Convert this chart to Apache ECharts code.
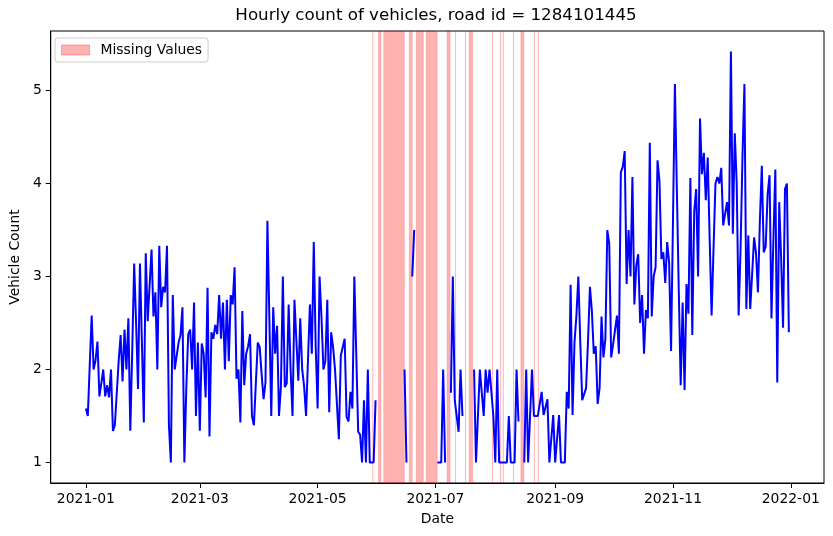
<!DOCTYPE html>
<html>
<head>
<meta charset="utf-8">
<script src="https://cdn.jsdelivr.net/npm/echarts@6/dist/echarts.min.js"></script>
<style>
  html, body { margin: 0; padding: 0; background: #fff; }
  #main { width: 833px; height: 536px; }
</style>
</head>
<body>
<div id="main"></div>
<script>
// daily values, starting 2021-01-01 (null = gap in the line)
const startDate = '2021-01-01'
const counts = [
  1.58, 1.50, 2.05, 2.58, 2.0, 2.1, 2.30, 1.71, 1.85, 2.0,
  1.71, 1.83, 1.70, 2.0, 1.34, 1.40, 1.75, 2.1, 2.37, 1.87,
  2.43, 2.0, 2.55, 1.34, 2.2, 3.14, 2.5, 1.79, 3.14, 2.3,
  1.43, 3.25, 2.52, 2.52, 3.29, 2.57, 2.83, 2.0, 3.33, 2.67,
  2.89, 2.83, 3.33, 1.4, 1.0, 2.80, 2.0, 2.0, 2.29, 2.37,
  2.67, 1.0, 1.8, 2.38, 2.43, 2.0, 2.72, 1.50, 2.29, 1.34,
  2.28, 2.17, 1.70, 2.88, 1.28, 2.40, 2.33, 2.48, 2.38, 2.80,
  2.33, 2.72, 2.0, 2.75, 2.09, 2.80, 2.70, 3.10, 1.90, 2.0,
  1.43, 2.63, 1.83, 2.17, 2.25, 2.38, 1.50, 1.40, 1.85, 2.29,
  2.24, 1.95, 1.68, 1.86, 3.60, 2.55, 1.50, 2.67, 2.17, 2.47,
  1.50, 1.82, 3.0, 1.81, 1.85, 2.70, 2.0, 1.5, 2.75, 2.31,
  1.88, 2.55, 2.0, 1.82, 1.50, 2.1, 2.70, 2.17, 3.37, 2.24,
  1.58, 3.0, 2.56, 2.0, 2.09, 2.75, 1.54, 2.40, 2.24, 2.0,
  2.0, 1.25, 2.15, 2.24, 2.33, 1.49, 1.44, 1.76, 1.58, 3.0,
  3.0, 1.33, 1.3, 1.0, 1.67, 1.0, 2.0, 1.0, 1.0, 1.0,
  1.67, null, null, null, null, null, null, null, null, null,
  null, null, null, null, null, 2.0, 1.0, null, null, 3.0,
  3.5, null, null, null, null, null, null, null, null, null,
  null, null, 1.0, 1.0, 1.0, 2.0, 1.0, null, null, 1.75,
  3.0, 1.67, 1.67, 1.33, 2.0, 1.5, null, null, null, null,
  null, 2.0, 1.0, 1.5, 2.0, 1.75, 1.5, 2.0, 1.75, 2.0,
  1.75, 1.5, 1.0, 2.0, 1.0, 1.0, 1.0, 1.0, 1.0, 1.5,
  1.0, 1.0, 1.0, 2.0, 1.44, null, null, 1.0, 2.0, 1.0,
  1.0, 2.0, 1.5, 1.5, 1.5, 1.5, 1.76, 1.51, 1.51, 1.68,
  1.0, 1.0, 1.51, 1.0, 1.0, 1.51, 1.0, 1.0, 1.0, 1.76,
  1.58, 2.91, 1.51, 2.29, 2.58, 3.0, 2.3, 1.67, 1.67, 1.80,
  2.3, 2.89, 2.63, 2.17, 2.25, 1.63, 1.80, 2.57, 2.13, 2.33,
  3.50, 3.35, 2.13, 2.27, 2.27, 2.58, 2.17, 4.12, 4.18, 4.35,
  2.92, 3.50, 3.0, 4.07, 2.70, 3.12, 3.24, 2.50, 2.80, 2.17,
  2.64, 2.55, 4.44, 2.57, 3.0, 3.1, 4.25, 4.03, 3.19, 3.26,
  2.93, 3.37, 3.15, 2.20, 3.6, 5.07, 3.95, 2.85, 1.83, 2.72,
  1.78, 2.92, 2.60, 4.06, 2.37, 3.70, 3.94, 3.0, 4.70, 4.10,
  4.33, 3.82, 4.28, 3.4, 2.58, 3.3, 4.0, 4.07, 4.0, 4.17,
  3.55, 3.55, 3.80, 3.55, 5.42, 3.46, 4.54, 4.0, 2.58, 3.3,
  4.3, 5.07, 2.65, 3.44, 2.65, 3.03, 3.42, 3.25, 2.83, 3.6,
  4.19, 3.26, 3.32, 3.88, 4.09, 2.55, 3.4, 4.15, 1.86, 3.80,
  3.2, 2.45, 3.94, 4.0, 2.40
]

// stretches of missing hours (start, end)
const missingRanges = [
  ['2021-05-29 14:00', '2021-05-29 15:00'],
  ['2021-06-01 10:00', '2021-06-02 20:00'],
  ['2021-06-04 05:00', '2021-06-14 22:00'],
  ['2021-06-17 10:00', '2021-06-19 00:00'],
  ['2021-06-21 02:00', '2021-06-24 17:00'],
  ['2021-06-26 05:00', '2021-07-01 22:00'],
  ['2021-07-07 00:00', '2021-07-08 14:00'],
  ['2021-07-11 10:00', '2021-07-11 11:00'],
  ['2021-07-16 14:00', '2021-07-16 15:00'],
  ['2021-07-18 10:00', '2021-07-20 07:00'],
  ['2021-07-30 12:00', '2021-07-30 13:00'],
  ['2021-08-03 17:00', '2021-08-03 18:00'],
  ['2021-08-05 02:00', '2021-08-05 03:00'],
  ['2021-08-10 10:00', '2021-08-10 11:00'],
  ['2021-08-14 05:00', '2021-08-15 19:00'],
  ['2021-08-21 05:00', '2021-08-21 06:00'],
  ['2021-08-23 07:00', '2021-08-23 08:00']
]

const xTickLabels = ['2021-01', '2021-03', '2021-05', '2021-07', '2021-09', '2021-11', '2022-01']
const yTicks = [1, 2, 3, 4, 5]

const DAY = 24 * 3600 * 1000

// local-time timestamp from 'YYYY-MM-DD' or 'YYYY-MM-DD HH:mm'
function ts (str) {
  const [d, t] = str.split(' ')
  const [y, m, dd] = d.split('-').map(Number)
  const [hh, mm] = (t || '00:00').split(':').map(Number)
  return new Date(y, m - 1, dd, hh, mm).getTime()
}

const t0 = ts(startDate)
const lineData = counts.map((v, i) => [t0 + i * DAY, v])
const tFirst = t0
const tLast = t0 + (counts.length - 1) * DAY

// matplotlib-like 5% margins
const vals = counts.filter(v => v !== null)
const vMin = Math.min(...vals)
const vMax = Math.max(...vals)
const yPad = (vMax - vMin) * 0.05
const xPad = (tLast - tFirst) * 0.05

const xTickValues = xTickLabels.map(s => ts(s + '-01'))

const font = 'DejaVu Sans'
const myChart = echarts.init(document.getElementById('main'))

const option = {
  animation: false,
  backgroundColor: '#ffffff',
  textStyle: { fontFamily: font },
  title: {
    text: 'Hourly count of vehicles, road id = 1284101445',
    left: 436,
    textAlign: 'center',
    top: 7,
    padding: 0,
    textStyle: { fontFamily: font, fontSize: 16.7, fontWeight: 'normal', color: '#000' }
  },
  legend: {
    data: [{
      name: 'Missing Values',
      icon: 'rect',
      itemStyle: { color: 'rgba(255,0,0,0.3)', borderColor: 'rgba(255,0,0,0.3)', borderWidth: 1 }
    }],
    left: 55,
    top: 38,
    orient: 'vertical',
    itemWidth: 28,
    itemHeight: 10,
    padding: [5, 6, 5, 6],
    borderColor: '#cccccc',
    borderWidth: 1,
    borderRadius: 3,
    backgroundColor: 'rgba(255,255,255,0.8)',
    selectedMode: false,
    textStyle: { fontFamily: font, fontSize: 13.9, color: '#000', padding: [0, 0, 0, 6] }
  },
  grid: {
    left: 48,
    right: 9,
    top: 31,
    bottom: 53,
    show: true,
    borderColor: '#000',
    borderWidth: 1,
    backgroundColor: 'transparent'
  },
  xAxis: {
    type: 'value',
    min: tFirst - xPad,
    max: tLast + xPad,
    name: 'Date',
    nameLocation: 'middle',
    nameGap: 29,
    nameTextStyle: { fontFamily: font, fontSize: 13.9, color: '#000' },
    axisLine: { show: true, onZero: false, lineStyle: { color: '#000', width: 1 } },
    axisTick: { show: true, inside: false, length: 5, customValues: xTickValues, lineStyle: { color: '#000' } },
    axisLabel: {
      customValues: xTickValues,
      margin: 9,
      fontFamily: font,
      fontSize: 13.9,
      color: '#000',
      formatter: function (value) {
        const d = new Date(value)
        return d.getFullYear() + '-' + String(d.getMonth() + 1).padStart(2, '0')
      }
    },
    splitLine: { show: false }
  },
  yAxis: {
    type: 'value',
    min: vMin - yPad,
    max: vMax + yPad,
    name: 'Vehicle Count',
    nameLocation: 'middle',
    nameGap: 23,
    nameRotate: 90,
    nameTextStyle: { fontFamily: font, fontSize: 13.9, color: '#000' },
    axisLine: { show: true, onZero: false, lineStyle: { color: '#000', width: 1 } },
    axisTick: { show: true, inside: false, length: 5, customValues: yTicks, lineStyle: { color: '#000' } },
    axisLabel: {
      customValues: yTicks,
      margin: 9,
      fontFamily: font,
      fontSize: 13.9,
      color: '#000'
    },
    splitLine: { show: false }
  },
  series: [
    {
      name: 'Missing Values',
      type: 'line',
      data: [],
      itemStyle: { color: 'rgba(255,0,0,0.3)' },
      markArea: {
        silent: true,
        itemStyle: { color: 'rgba(255,0,0,0.3)', borderColor: 'rgba(255,0,0,0.25)', borderWidth: 0.6 },
        label: { show: false },
        data: missingRanges.map(r => [{ xAxis: ts(r[0]) }, { xAxis: ts(r[1]) }])
      }
    },
    {
      name: 'Vehicle Count',
      type: 'line',
      data: lineData,
      showSymbol: false,
      connectNulls: false,
      smooth: false,
      silent: true,
      lineStyle: { color: '#0000ff', width: 2 },
      itemStyle: { color: '#0000ff' },
      z: 3
    }
  ]
}

myChart.setOption(option)
</script>
</body>
</html>
